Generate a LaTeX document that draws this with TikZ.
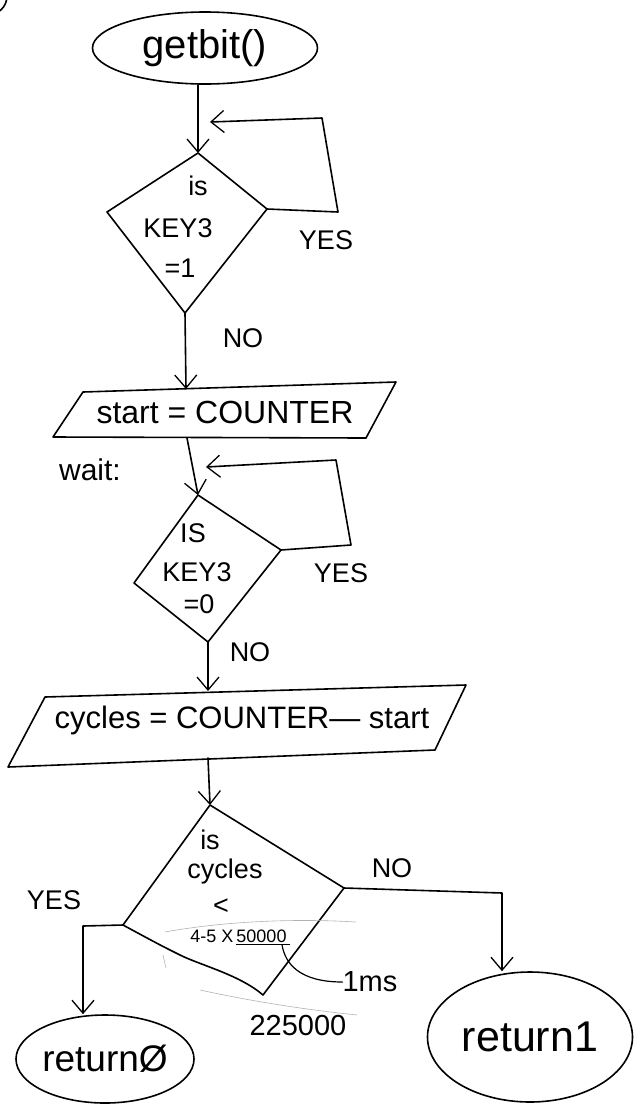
\documentclass[tikz,border=0pt]{standalone}
\usepackage{fontspec}
\setmainfont{Liberation Sans}
\usetikzlibrary{arrows.meta,shapes.geometric}
\begin{document}
\begin{tikzpicture}[x=1pt,y=-1pt,
  ink/.style={line width=1.6pt, line join=round, line cap=round},
  flow/.style={ink, -{Straight Barb[length=13pt,width=22pt,line width=1.3pt]}},
  lbl/.style={inner sep=0pt, font=\fontsize{27}{29}\selectfont},
  small/.style={inner sep=0pt, font=\fontsize{18}{20}\selectfont},
  term/.style={ink, draw, ellipse, inner sep=0pt},
  faint/.style={black!30, line width=0.6pt}]
\useasboundingbox (0,0) rectangle (634,1104);

% corner fragment
\draw[ink] (-12,-4) circle (19pt);

% start terminal
\node[term, minimum width=225pt, minimum height=72pt, font=\fontsize{40}{42}\selectfont] (getbit) at (205,48) {getbit()};

% decision 1
\coordinate (d1t) at (198,153);
\coordinate (d1r) at (267,209);
\coordinate (d1b) at (185,313);
\coordinate (d1l) at (107,212);
\draw[ink] (d1t) -- (d1r) -- (d1b) -- (d1l) -- cycle;
\node[lbl] (d1a) at (198,186) {is};
\node[lbl] (d1c) at (178,228) {KEY3};
\node[lbl] (d1d) at (180,268) {=1};
\draw[flow] (getbit.south -| d1t) -- (d1t);
\coordinate (l1a) at (338,212);
\coordinate (l1b) at (322,118);
\coordinate (l1c) at (210,122);
\draw[flow] (d1r) -- (l1a) -- (l1b) -- (l1c);
\node[lbl] (yes1) at (326,240) {YES};
\node[lbl] (no1) at (243,338) {NO};

% start = COUNTER
\coordinate (p1a) at (83,392);
\coordinate (p1b) at (396,382);
\coordinate (p1c) at (366,438);
\coordinate (p1d) at (53,437);
\draw[ink] (p1a) -- (p1b) -- (p1c) -- (p1d) -- cycle;
\node[inner sep=0pt, font=\fontsize{32}{34}\selectfont] (p1) at (225,412) {start = COUNTER};
\coordinate (p1top) at (186,389);
\draw[flow] (d1b) -- (p1top);
\node[inner sep=0pt, font=\fontsize{30}{32}\selectfont] (wait) at (90,470) {wait:};

% decision 2
\coordinate (d2t) at (198,495);
\coordinate (d2r) at (281,550);
\coordinate (d2b) at (208,642);
\coordinate (d2l) at (134,583);
\draw[ink] (d2t) -- (d2r) -- (d2b) -- (d2l) -- cycle;
\node[lbl] (d2a) at (193,533) {IS};
\node[lbl] (d2c) at (197,572) {KEY3};
\node[lbl] (d2d) at (199,604) {=0};
\coordinate (p1bot) at (187,438);
\draw[flow] (p1bot) -- (d2t);
\coordinate (l2a) at (351,545);
\coordinate (l2b) at (336,460);
\coordinate (l2c) at (206,467);
\draw[flow] (d2r) -- (l2a) -- (l2b) -- (l2c);
\node[lbl] (yes2) at (341,573) {YES};
\node[lbl] (no2) at (250,652) {NO};

% cycles = COUNTER - start
\coordinate (p2a) at (45,697);
\coordinate (p2b) at (466,685);
\coordinate (p2c) at (435,750);
\coordinate (p2d) at (8,767);
\draw[ink] (p2a) -- (p2b) -- (p2c) -- (p2d) -- cycle;
\node[inner sep=0pt, font=\fontsize{31}{33}\selectfont] (p2) at (242,720) {cycles = COUNTER--- start};
\coordinate (p2top) at (208,691);
\draw[flow] (d2b) -- (p2top);

% decision 3
\coordinate (d3t) at (210,805);
\coordinate (d3r) at (344,888);
\coordinate (d3b) at (263,995);
\coordinate (d3l) at (123,925);
\draw[ink] (d3t) -- (d3r) -- (d3b) .. controls (240,975) and (200,965) .. (180,955) .. controls (160,945) .. (d3l) -- cycle;
\coordinate (p2bot) at (208,758);
\draw[flow] (p2bot) -- (d3t);
\node[lbl] (d3a) at (210,840) {is};
\node[lbl] (d3c) at (225,872) {cycles};
\node[lbl] (d3d) at (221,907) {<};
\node[small] (expr) at (240,937) {4-5 X\,\underline{50000\,}};
\node[inner sep=0pt, font=\fontsize{29}{31}\selectfont] (ms) at (370,982) {1ms};
\coordinate (ldx) at (282,950);
\coordinate (lda) at (ldx |- expr.south);
\draw[ink, line width=1.2pt] (lda) .. controls (285,964) and (300,982) .. (ms.west);
\node[inner sep=0pt, font=\fontsize{29}{31}\selectfont] (res) at (298,1026) {225000};
\draw[faint] (165,932) .. controls (220,922) and (290,918) .. (356,922);
\draw[faint] (200,990) .. controls (260,1003) and (310,1010) .. (357,1015);
\draw[faint] (163,955) -- (166,968);

% branches
\node[term, minimum width=178pt, minimum height=88pt, font=\fontsize{37}{39}\selectfont] (ret0) at (105,1059) {returnØ};
\node[term, minimum width=205pt, minimum height=130pt, font=\fontsize{43}{45}\selectfont] (ret1) at (530,1037) {return1};
\coordinate (nb) at (502,893);
\draw[flow] (d3r) -- (nb) -- (nb |- ret1.north);
\coordinate (yb) at (83,926);
\draw[flow] (d3l) -- (yb) -- (yb |- ret0.north);
\node[lbl] (no3) at (392,868) {NO};
\node[lbl] (yes3) at (54,900) {YES};
\end{tikzpicture}
\end{document}
